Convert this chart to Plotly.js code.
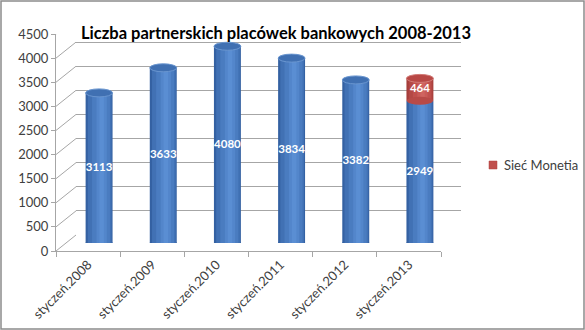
<!DOCTYPE html>
<html><head><meta charset="utf-8">
<script src="https://cdn.plot.ly/plotly-3.0.1.min.js"></script>
<style>html,body{margin:0;padding:0;background:#fff}#chart{width:585px;height:330px}</style>
</head><body><div id="chart"></div>
<script>
// ---- data ----
const categories = ['styczeń.2008','styczeń.2009','styczeń.2010','styczeń.2011','styczeń.2012','styczeń.2013'];
const partnerValues = [3113, 3633, 4080, 3834, 3382, 2949];
const monetiaValues = [null, null, null, null, null, 464];
const monetiaName = 'Sieć Monetia';
const chartTitle = 'Liczba partnerskich placówek bankowych 2008-2013';
const yMax = 4500, yStep = 500;

// ---- geometry / styles ----
const W = 585, H = 330;
const front = {x0: 56, x1: 441, yb: 251, yt: 34};
const depth = {dx: 20, dy: 16};
const mid = {dx: 11, dy: 8};
const px = v => v / W, py = v => 1 - v / H;
const catPx = (front.x1 - front.x0) / categories.length;
const unitPerPxY = yMax / (front.yb - front.yt);
const barW = 0.42;
const capHalf = 4 * unitPerPxY;
const blueLayers = [
  {w: 0.42, c: 0.00, col: '#3461a2'},
  {w: 0.37, c: 0.01, col: '#4171b4'},
  {w: 0.28, c: 0.03, col: '#4a7cc0'},
  {w: 0.16, c: 0.04, col: '#5386cb'},
  {w: 0.07, c: 0.04, col: '#5a8ed3'}
];
const redLayers = [
  {w: 0.42, c: 0.00, col: '#a53e3b'},
  {w: 0.37, c: 0.01, col: '#b44845'},
  {w: 0.28, c: 0.03, col: '#c0504d'},
  {w: 0.16, c: 0.04, col: '#c95b57'},
  {w: 0.07, c: 0.04, col: '#cf6460'}
];
const font = 'Lato, "Open Sans", sans-serif';
const textCol = '#404040';
const gridCol = '#a6a6a6';

const traces = [];
traces.push({x: categories, y: categories.map(() => null), type: 'scatter', mode: 'markers',
  xaxis: 'x', yaxis: 'y', showlegend: false, hoverinfo: 'skip'});
traces.push({x: categories, y: categories.map(() => null), type: 'scatter', mode: 'markers',
  xaxis: 'x2', yaxis: 'y2', showlegend: false, hoverinfo: 'skip'});

blueLayers.forEach(L => traces.push({
  type: 'bar', x: categories, y: partnerValues, xaxis: 'x3', yaxis: 'y3',
  width: L.w, offset: L.c - L.w / 2, marker: {color: L.col, line: {width: 0}},
  showlegend: false, hoverinfo: 'skip'
}));
redLayers.forEach((L, i) => traces.push({
  type: 'bar', x: categories, y: monetiaValues, base: partnerValues, xaxis: 'x3', yaxis: 'y3',
  width: L.w, offset: L.c - L.w / 2, marker: {color: L.col, line: {width: 0}},
  name: monetiaName, showlegend: false, hoverinfo: 'skip'
}));
traces.push({
  type: 'scatter', mode: 'text', xaxis: 'x3', yaxis: 'y3', x: categories,
  y: partnerValues.map(v => v / 2), text: partnerValues.map(String),
  textfont: {color: '#ffffff', size: 11.5, family: font, weight: 700},
  showlegend: false, hoverinfo: 'skip', cliponaxis: false
});
traces.push({
  type: 'scatter', mode: 'text', xaxis: 'x3', yaxis: 'y3', x: categories,
  y: monetiaValues.map((v, i) => v == null ? null : partnerValues[i] + v / 2),
  text: monetiaValues.map(v => v == null ? '' : String(v)),
  textfont: {color: '#ffffff', size: 11.5, family: font, weight: 700},
  showlegend: false, hoverinfo: 'skip', cliponaxis: false
});

const shapes = [];
const dxU = depth.dx / catPx, dyU = depth.dy * unitPerPxY;
for (let v = 0; v <= yMax; v += yStep) {
  shapes.push({type: 'line', xref: 'x2', yref: 'y2', x0: -0.5, y0: v, x1: -0.5 + dxU, y1: v + dyU,
    line: {color: gridCol, width: 1}, layer: 'below'});
}
shapes.push({type: 'line', xref: 'x2', yref: 'y2', x0: categories.length - 0.5, y0: 0,
  x1: categories.length - 0.5 + dxU, y1: dyU, line: {color: gridCol, width: 1}, layer: 'below'});
categories.forEach((c, i) => {
  shapes.push({type: 'circle', xref: 'x3', yref: 'y3', x0: i - barW / 2, x1: i + barW / 2,
    y0: -capHalf, y1: capHalf, fillcolor: '#4171b4', line: {width: 0}, layer: 'below'});
  const top = partnerValues[i] + (monetiaValues[i] || 0);
  const isRed = monetiaValues[i] != null;
  if (isRed) {
    shapes.push({type: 'circle', xref: 'x3', yref: 'y3', x0: i - barW / 2 + 0.005, x1: i + barW / 2 - 0.005,
      y0: partnerValues[i] - capHalf, y1: partnerValues[i] + capHalf, fillcolor: '#b84a47',
      line: {width: 0}, layer: 'above'});
  }
  shapes.push({type: 'circle', xref: 'x3', yref: 'y3', x0: i - barW / 2, x1: i + barW / 2,
    y0: top - capHalf, y1: top + capHalf,
    fillcolor: isRed ? '#b84845' : '#4070b2',
    line: {color: isRed ? '#d27a76' : '#6a96d0', width: 1}, layer: 'above'});
});
// legend key for the Monetia series
shapes.push({type: 'rect', xref: 'paper', yref: 'paper', x0: px(489), x1: px(497), y0: py(169), y1: py(161),
  fillcolor: '#c0504d', line: {color: '#b0403d', width: 0.5}});
// chart border
shapes.push({type: 'rect', xref: 'paper', yref: 'paper', x0: px(1), x1: px(584), y0: py(329), y1: py(1),
  line: {color: '#8c8c8c', width: 1.5}, fillcolor: 'rgba(0,0,0,0)'});

const annotations = [{
  xref: 'paper', yref: 'paper', x: px(502), y: py(165), xanchor: 'left', yanchor: 'middle',
  text: monetiaName, showarrow: false, font: {family: font, size: 13, color: textCol}
}];

const catAxisBase = {type: 'category', categoryorder: 'array', categoryarray: categories,
  range: [-0.5, categories.length - 0.5], fixedrange: true};

const layout = {
  width: W, height: H, margin: {l: 0, r: 0, t: 0, b: 0},
  paper_bgcolor: '#ffffff', plot_bgcolor: 'rgba(0,0,0,0)',
  barmode: 'overlay', font: {family: font, color: textCol, size: 13},
  title: {text: chartTitle, font: {family: font, size: 16.5, color: '#000000', weight: 700},
    x: 276 / W, xanchor: 'center', y: py(33), yanchor: 'middle', xref: 'paper', yref: 'paper'},
  xaxis: Object.assign({}, catAxisBase, {domain: [px(front.x0 + depth.dx), px(front.x1 + depth.dx)],
    anchor: 'y', showticklabels: false, showgrid: false, zeroline: false, showline: false, ticks: ''}),
  yaxis: {domain: [py(front.yb - depth.dy), py(front.yt - depth.dy)], anchor: 'x', range: [0, yMax],
    dtick: yStep, tick0: 0, showgrid: true, gridcolor: gridCol, gridwidth: 1, showticklabels: false,
    zeroline: false, showline: false, ticks: '', fixedrange: true},
  xaxis2: Object.assign({}, catAxisBase, {domain: [px(front.x0), px(front.x1)], anchor: 'y2',
    showgrid: false, zeroline: false, showline: true, linecolor: gridCol, linewidth: 1,
    ticks: 'outside', tickson: 'boundaries', ticklen: 5, tickcolor: gridCol, tickangle: -45,
    tickfont: {family: font, size: 13, color: textCol}}),
  yaxis2: {domain: [py(front.yb), py(front.yt)], anchor: 'x2', range: [0, yMax], dtick: yStep, tick0: 0,
    showgrid: false, zeroline: false, showline: true, linecolor: gridCol, linewidth: 1,
    ticks: 'outside', ticklen: 4, tickcolor: gridCol, tickfont: {family: font, size: 13, color: textCol},
    fixedrange: true},
  xaxis3: Object.assign({}, catAxisBase, {domain: [px(front.x0 + mid.dx), px(front.x1 + mid.dx)],
    anchor: 'y3', visible: false}),
  yaxis3: {domain: [py(front.yb - mid.dy), py(front.yt - mid.dy)], anchor: 'x3',
    range: [0, yMax], visible: false, fixedrange: true},
  shapes: shapes,
  annotations: annotations,
  showlegend: false
};

Plotly.newPlot('chart', traces, layout, {staticPlot: true, displayModeBar: false});
</script>
</body></html>
